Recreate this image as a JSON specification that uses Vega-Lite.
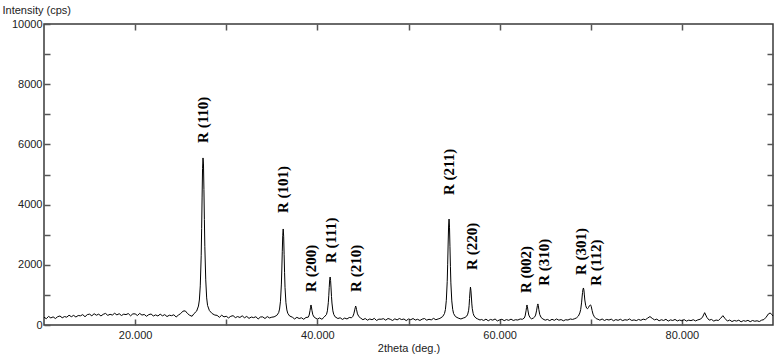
{
  "$schema": "https://vega.github.io/schema/vega-lite/v6.json",
  "width": 729,
  "height": 301,
  "autosize": {"type": "none"},
  "padding": {"left": 44, "top": 24, "right": 10, "bottom": 37},
  "background": "white",
  "config": {
    "view": {"stroke": "#3a3a3a", "strokeWidth": 1.5},
    "axis": {
      "labelFont": "Liberation Sans Narrow, Liberation Sans",
      "labelFontSize": 11,
      "labelColor": "#222",
      "titleFont": "Liberation Sans Narrow, Liberation Sans",
      "titleFontSize": 11,
      "titleFontWeight": "normal",
      "titleColor": "#222",
      "tickColor": "#555",
      "tickWidth": 1.5,
      "domain": false,
      "grid": false
    }
  },
  "datasets": {
    "xrd": [
      {"t":10.00,"i":260},{"t":10.25,"i":210},{"t":10.50,"i":285},{"t":10.75,"i":235},{"t":11.00,"i":270},{"t":11.25,"i":215},{"t":11.50,"i":275},{"t":11.75,"i":300},{"t":12.00,"i":240},{"t":12.25,"i":280},{"t":12.50,"i":260},{"t":12.75,"i":325},{"t":13.00,"i":275},{"t":13.25,"i":320},{"t":13.50,"i":265},{"t":13.75,"i":315},{"t":14.00,"i":305},{"t":14.25,"i":345},{"t":14.50,"i":275},{"t":14.75,"i":345},{"t":15.00,"i":360},{"t":15.25,"i":305},{"t":15.50,"i":375},{"t":15.75,"i":325},{"t":16.00,"i":360},{"t":16.25,"i":300},{"t":16.50,"i":355},{"t":16.75,"i":385},{"t":17.00,"i":320},{"t":17.25,"i":355},{"t":17.50,"i":330},{"t":17.75,"i":390},{"t":18.00,"i":335},{"t":18.25,"i":375},{"t":18.50,"i":315},{"t":18.75,"i":360},{"t":19.00,"i":345},{"t":19.25,"i":380},{"t":19.50,"i":305},{"t":19.75,"i":370},{"t":20.00,"i":370},{"t":20.25,"i":315},{"t":20.50,"i":385},{"t":20.75,"i":330},{"t":21.00,"i":350},{"t":21.25,"i":290},{"t":21.50,"i":345},{"t":21.75,"i":365},{"t":22.00,"i":300},{"t":22.25,"i":335},{"t":22.50,"i":300},{"t":22.75,"i":360},{"t":23.00,"i":305},{"t":23.25,"i":345},{"t":23.50,"i":280},{"t":23.75,"i":325},{"t":24.00,"i":310},{"t":24.25,"i":340},{"t":24.50,"i":265},{"t":24.75,"i":330},{"t":25.00,"i":380},{"t":25.25,"i":460},{"t":25.50,"i":470},{"t":25.75,"i":380},{"t":26.00,"i":320},{"t":26.25,"i":290},{"t":26.45,"i":375},{"t":26.75,"i":460},{"t":26.95,"i":630},{"t":27.05,"i":830},{"t":27.15,"i":1300},{"t":27.25,"i":2300},{"t":27.30,"i":3200},{"t":27.35,"i":4250},{"t":27.40,"i":5200},{"t":27.45,"i":5550},{"t":27.50,"i":5350},{"t":27.55,"i":4500},{"t":27.60,"i":3500},{"t":27.65,"i":2600},{"t":27.75,"i":1500},{"t":27.85,"i":900},{"t":27.95,"i":650},{"t":28.15,"i":480},{"t":28.45,"i":380},{"t":28.75,"i":330},{"t":29.00,"i":320},{"t":29.25,"i":255},{"t":29.50,"i":325},{"t":29.75,"i":270},{"t":30.00,"i":290},{"t":30.25,"i":235},{"t":30.50,"i":290},{"t":30.75,"i":310},{"t":31.00,"i":245},{"t":31.25,"i":280},{"t":31.50,"i":250},{"t":31.75,"i":305},{"t":32.00,"i":240},{"t":32.25,"i":285},{"t":32.50,"i":220},{"t":32.75,"i":265},{"t":33.00,"i":245},{"t":33.25,"i":275},{"t":33.50,"i":200},{"t":33.75,"i":265},{"t":34.00,"i":270},{"t":34.25,"i":215},{"t":34.50,"i":280},{"t":34.75,"i":235},{"t":35.00,"i":260},{"t":35.25,"i":270},{"t":35.55,"i":320},{"t":35.75,"i":410},{"t":35.85,"i":530},{"t":35.95,"i":790},{"t":36.05,"i":1360},{"t":36.10,"i":1860},{"t":36.15,"i":2450},{"t":36.20,"i":2980},{"t":36.25,"i":3190},{"t":36.30,"i":2950},{"t":36.35,"i":2350},{"t":36.40,"i":1750},{"t":36.45,"i":1250},{"t":36.55,"i":740},{"t":36.65,"i":500},{"t":36.75,"i":390},{"t":36.95,"i":300},{"t":37.25,"i":260},{"t":37.50,"i":200},{"t":37.75,"i":255},{"t":38.00,"i":215},{"t":38.25,"i":240},{"t":38.50,"i":190},{"t":38.75,"i":250},{"t":39.00,"i":260},{"t":39.10,"i":330},{"t":39.20,"i":490},{"t":39.25,"i":590},{"t":39.30,"i":665},{"t":39.35,"i":600},{"t":39.40,"i":490},{"t":39.50,"i":340},{"t":39.65,"i":260},{"t":39.85,"i":220},{"t":40.00,"i":195},{"t":40.25,"i":235},{"t":40.50,"i":190},{"t":40.75,"i":265},{"t":41.00,"i":350},{"t":41.10,"i":470},{"t":41.20,"i":740},{"t":41.25,"i":970},{"t":41.30,"i":1250},{"t":41.35,"i":1500},{"t":41.40,"i":1595},{"t":41.45,"i":1480},{"t":41.50,"i":1230},{"t":41.55,"i":950},{"t":41.60,"i":730},{"t":41.70,"i":470},{"t":41.80,"i":350},{"t":41.95,"i":270},{"t":42.25,"i":215},{"t":42.50,"i":240},{"t":42.75,"i":185},{"t":43.00,"i":230},{"t":43.25,"i":200},{"t":43.50,"i":250},{"t":43.75,"i":240},{"t":43.90,"i":290},{"t":44.00,"i":370},{"t":44.10,"i":500},{"t":44.15,"i":570},{"t":44.20,"i":630},{"t":44.25,"i":590},{"t":44.30,"i":510},{"t":44.40,"i":370},{"t":44.55,"i":280},{"t":44.75,"i":230},{"t":45.00,"i":175},{"t":45.25,"i":215},{"t":45.50,"i":160},{"t":45.75,"i":200},{"t":46.00,"i":175},{"t":46.25,"i":220},{"t":46.50,"i":150},{"t":46.75,"i":195},{"t":47.00,"i":190},{"t":47.25,"i":210},{"t":47.50,"i":160},{"t":47.75,"i":215},{"t":48.00,"i":190},{"t":48.25,"i":150},{"t":48.50,"i":205},{"t":48.75,"i":170},{"t":49.00,"i":215},{"t":49.25,"i":180},{"t":49.50,"i":200},{"t":49.75,"i":145},{"t":50.00,"i":200},{"t":50.25,"i":175},{"t":50.50,"i":215},{"t":50.75,"i":165},{"t":51.00,"i":190},{"t":51.25,"i":150},{"t":51.50,"i":195},{"t":51.75,"i":215},{"t":52.00,"i":160},{"t":52.25,"i":190},{"t":52.50,"i":170},{"t":52.75,"i":220},{"t":53.00,"i":175},{"t":53.25,"i":200},{"t":53.45,"i":220},{"t":53.75,"i":280},{"t":53.95,"i":380},{"t":54.05,"i":510},{"t":54.15,"i":820},{"t":54.25,"i":1450},{"t":54.30,"i":2020},{"t":54.35,"i":2690},{"t":54.40,"i":3290},{"t":54.45,"i":3520},{"t":54.50,"i":3250},{"t":54.55,"i":2600},{"t":54.60,"i":1950},{"t":54.65,"i":1400},{"t":54.75,"i":800},{"t":54.85,"i":520},{"t":54.95,"i":380},{"t":55.15,"i":280},{"t":55.45,"i":230},{"t":55.75,"i":200},{"t":56.00,"i":230},{"t":56.20,"i":250},{"t":56.40,"i":300},{"t":56.50,"i":360},{"t":56.60,"i":490},{"t":56.65,"i":640},{"t":56.70,"i":880},{"t":56.75,"i":1100},{"t":56.80,"i":1260},{"t":56.85,"i":1150},{"t":56.90,"i":930},{"t":56.95,"i":700},{"t":57.00,"i":540},{"t":57.10,"i":380},{"t":57.20,"i":300},{"t":57.40,"i":230},{"t":57.60,"i":200},{"t":57.85,"i":165},{"t":58.00,"i":185},{"t":58.25,"i":150},{"t":58.50,"i":195},{"t":58.75,"i":140},{"t":59.00,"i":185},{"t":59.25,"i":160},{"t":59.50,"i":200},{"t":59.75,"i":135},{"t":60.00,"i":170},{"t":60.25,"i":190},{"t":60.50,"i":145},{"t":60.75,"i":180},{"t":61.00,"i":155},{"t":61.25,"i":195},{"t":61.50,"i":150},{"t":61.75,"i":175},{"t":62.00,"i":165},{"t":62.25,"i":200},{"t":62.50,"i":190},{"t":62.70,"i":230},{"t":62.80,"i":300},{"t":62.90,"i":470},{"t":62.95,"i":580},{"t":63.00,"i":665},{"t":63.05,"i":610},{"t":63.10,"i":500},{"t":63.20,"i":330},{"t":63.35,"i":240},{"t":63.50,"i":205},{"t":63.70,"i":230},{"t":63.85,"i":270},{"t":63.95,"i":330},{"t":64.05,"i":470},{"t":64.15,"i":650},{"t":64.20,"i":700},{"t":64.25,"i":640},{"t":64.30,"i":520},{"t":64.40,"i":350},{"t":64.55,"i":250},{"t":64.75,"i":200},{"t":65.00,"i":160},{"t":65.25,"i":185},{"t":65.50,"i":145},{"t":65.75,"i":190},{"t":66.00,"i":155},{"t":66.25,"i":200},{"t":66.50,"i":160},{"t":66.75,"i":180},{"t":67.00,"i":140},{"t":67.25,"i":175},{"t":67.50,"i":165},{"t":67.75,"i":200},{"t":68.00,"i":185},{"t":68.25,"i":210},{"t":68.45,"i":240},{"t":68.65,"i":300},{"t":68.80,"i":400},{"t":68.90,"i":520},{"t":69.00,"i":760},{"t":69.05,"i":930},{"t":69.10,"i":1080},{"t":69.15,"i":1190},{"t":69.20,"i":1230},{"t":69.25,"i":1160},{"t":69.30,"i":1000},{"t":69.35,"i":830},{"t":69.45,"i":640},{"t":69.55,"i":560},{"t":69.65,"i":540},{"t":69.75,"i":580},{"t":69.85,"i":640},{"t":69.95,"i":665},{"t":70.00,"i":660},{"t":70.05,"i":620},{"t":70.15,"i":480},{"t":70.25,"i":360},{"t":70.40,"i":270},{"t":70.60,"i":210},{"t":70.80,"i":190},{"t":71.00,"i":160},{"t":71.25,"i":200},{"t":71.50,"i":150},{"t":71.75,"i":185},{"t":72.00,"i":165},{"t":72.25,"i":195},{"t":72.50,"i":140},{"t":72.75,"i":180},{"t":73.00,"i":155},{"t":73.25,"i":190},{"t":73.50,"i":145},{"t":73.75,"i":175},{"t":74.00,"i":160},{"t":74.25,"i":200},{"t":74.50,"i":150},{"t":74.75,"i":170},{"t":75.00,"i":145},{"t":75.25,"i":185},{"t":75.50,"i":155},{"t":75.75,"i":195},{"t":76.00,"i":175},{"t":76.25,"i":230},{"t":76.50,"i":280},{"t":76.75,"i":220},{"t":77.00,"i":170},{"t":77.25,"i":195},{"t":77.50,"i":140},{"t":77.75,"i":175},{"t":78.00,"i":150},{"t":78.25,"i":190},{"t":78.50,"i":130},{"t":78.75,"i":170},{"t":79.00,"i":150},{"t":79.25,"i":185},{"t":79.50,"i":135},{"t":79.75,"i":165},{"t":80.00,"i":140},{"t":80.25,"i":180},{"t":80.50,"i":130},{"t":80.75,"i":160},{"t":81.00,"i":145},{"t":81.25,"i":175},{"t":81.50,"i":135},{"t":81.75,"i":170},{"t":82.00,"i":190},{"t":82.25,"i":250},{"t":82.50,"i":410},{"t":82.75,"i":250},{"t":83.00,"i":160},{"t":83.25,"i":185},{"t":83.50,"i":130},{"t":83.75,"i":165},{"t":84.00,"i":150},{"t":84.25,"i":220},{"t":84.50,"i":310},{"t":84.75,"i":210},{"t":85.00,"i":130},{"t":85.25,"i":165},{"t":85.50,"i":115},{"t":85.75,"i":150},{"t":86.00,"i":130},{"t":86.25,"i":160},{"t":86.50,"i":105},{"t":86.75,"i":145},{"t":87.00,"i":125},{"t":87.25,"i":155},{"t":87.50,"i":110},{"t":87.75,"i":150},{"t":88.00,"i":125},{"t":88.25,"i":140},{"t":88.50,"i":115},{"t":88.75,"i":160},{"t":89.00,"i":180},{"t":89.25,"i":260},{"t":89.50,"i":370},{"t":89.70,"i":400},{"t":89.85,"i":350},{"t":90.00,"i":300}
    ],
    "labels": [
      {"t":27.42,"i":6050,"label":"R (110)"},
      {"t":36.2,"i":3720,"label":"R (101)"},
      {"t":39.3,"i":1100,"label":"R (200)"},
      {"t":41.5,"i":2060,"label":"R (111)"},
      {"t":44.27,"i":1100,"label":"R (210)"},
      {"t":54.43,"i":4320,"label":"R (211)"},
      {"t":57.0,"i":1830,"label":"R (220)"},
      {"t":62.9,"i":1060,"label":"R (002)"},
      {"t":64.85,"i":1300,"label":"R (310)"},
      {"t":68.9,"i":1660,"label":"R (301)"},
      {"t":70.55,"i":1300,"label":"R (112)"}
    ]
  },
  "layer": [
    {
      "data": {"name": "xrd"},
      "mark": {"type": "line", "color": "black", "strokeWidth": 1},
      "encoding": {
        "x": {
          "field": "t", "type": "quantitative",
          "scale": {"domain": [10, 90], "nice": false, "zero": false},
          "axis": {
            "orient": "bottom",
            "values": [20, 30, 40, 50, 60, 70, 80],
            "labelExpr": "datum.value % 20 === 0 ? format(datum.value, '.3f') : ''",
            "tickSize": -6,
            "labelPadding": 10,
            "title": "2theta (deg.)",
            "titlePadding": 2
          }
        },
        "y": {
          "field": "i", "type": "quantitative",
          "scale": {"domain": [0, 10000], "nice": false, "zero": true},
          "axis": {
            "orient": "left",
            "values": [0, 1000, 2000, 3000, 4000, 5000, 6000, 7000, 8000, 9000, 10000],
            "labelExpr": "datum.value % 2000 === 0 ? format(datum.value, 'd') : ''",
            "tickSize": -6,
            "labelPadding": 8,
            "title": "Intensity (cps)",
            "titleAngle": 0,
            "titleAlign": "left",
            "titleBaseline": "middle",
            "titleX": -42,
            "titleY": -14
          }
        }
      }
    },
    {
      "data": {"name": "labels"},
      "mark": {"type": "text", "angle": 270, "align": "left", "baseline": "middle", "font": "Liberation Serif", "fontSize": 15, "fontWeight": "bold", "color": "black"},
      "encoding": {
        "x": {
          "field": "t", "type": "quantitative",
          "scale": {"domain": [10, 90], "nice": false, "zero": false},
          "axis": {"orient": "top", "values": [20, 30, 40, 50, 60, 70, 80], "labels": false, "tickSize": -6, "title": null}
        },
        "y": {
          "field": "i", "type": "quantitative",
          "scale": {"domain": [0, 10000], "nice": false, "zero": true},
          "axis": {"orient": "right", "values": [1000, 2000, 3000, 4000, 5000, 6000, 7000, 8000, 9000], "labels": false, "tickSize": -6, "title": null}
        },
        "text": {"field": "label"}
      }
    }
  ],
  "resolve": {"axis": {"x": "independent", "y": "independent"}}
}
